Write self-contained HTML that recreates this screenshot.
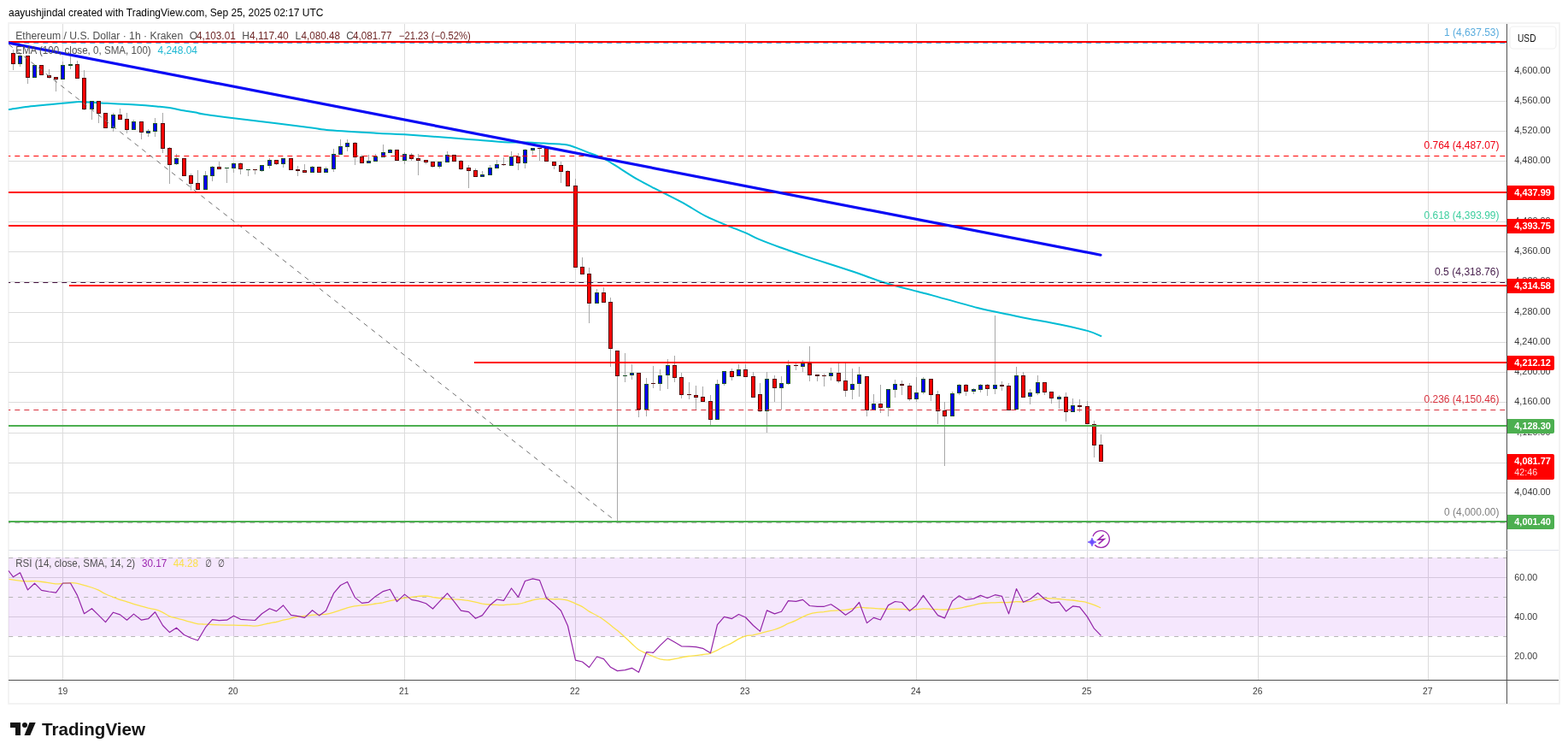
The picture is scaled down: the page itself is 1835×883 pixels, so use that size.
<!DOCTYPE html>
<html lang="en"><head><meta charset="utf-8"><title>ETHUSD 1h chart</title>
<style>
html,body{margin:0;padding:0;background:#fff;}
body{width:1835px;height:883px;overflow:hidden;font-family:"Liberation Sans", "DejaVu Sans", sans-serif;}
svg{display:block;}
text{white-space:pre;}
</style></head><body>
<svg width="1835" height="883" viewBox="0 0 1835 883" font-family='"Liberation Sans", "DejaVu Sans", sans-serif'><defs><clipPath id="cp"><rect x="10" y="28" width="1753" height="767"/></clipPath></defs>
<g id="frame">
<rect x="10" y="27" width="1815" height="796" fill="#fff" stroke="#f3f3f3" stroke-width="2"/>
</g><g id="grid">
<g shape-rendering="crispEdges" fill="#dcdcdc">
<rect x="73" y="28" width="1" height="615"/>
<rect x="73" y="644" width="1" height="151"/>
<rect x="273" y="28" width="1" height="615"/>
<rect x="273" y="644" width="1" height="151"/>
<rect x="473" y="28" width="1" height="615"/>
<rect x="473" y="644" width="1" height="151"/>
<rect x="673" y="28" width="1" height="615"/>
<rect x="673" y="644" width="1" height="151"/>
<rect x="872" y="28" width="1" height="615"/>
<rect x="872" y="644" width="1" height="151"/>
<rect x="1072" y="28" width="1" height="615"/>
<rect x="1072" y="644" width="1" height="151"/>
<rect x="1272" y="28" width="1" height="615"/>
<rect x="1272" y="644" width="1" height="151"/>
<rect x="1472" y="28" width="1" height="615"/>
<rect x="1472" y="644" width="1" height="151"/>
<rect x="1671" y="28" width="1" height="615"/>
<rect x="1671" y="644" width="1" height="151"/>
<rect x="10" y="83" width="1753" height="1"/>
<rect x="10" y="118" width="1753" height="1"/>
<rect x="10" y="153" width="1753" height="1"/>
<rect x="10" y="188" width="1753" height="1"/>
<rect x="10" y="224" width="1753" height="1"/>
<rect x="10" y="259" width="1753" height="1"/>
<rect x="10" y="294" width="1753" height="1"/>
<rect x="10" y="329" width="1753" height="1"/>
<rect x="10" y="365" width="1753" height="1"/>
<rect x="10" y="400" width="1753" height="1"/>
<rect x="10" y="435" width="1753" height="1"/>
<rect x="10" y="470" width="1753" height="1"/>
<rect x="10" y="506" width="1753" height="1"/>
<rect x="10" y="541" width="1753" height="1"/>
<rect x="10" y="576" width="1753" height="1"/>
<rect x="10" y="675" width="1753" height="1"/>
<rect x="10" y="721" width="1753" height="1"/>
<rect x="10" y="767" width="1753" height="1"/>
</g>
</g><g id="rsi-pane">
<rect x="10" y="652" width="1753" height="92" fill="#a425ed" fill-opacity="0.11"/>
<line x1="10" y1="652.5" x2="1763" y2="652.5" stroke="#b6b6b6" stroke-width="1" stroke-dasharray="5 6" stroke-dashoffset="10.8"/>
<line x1="10" y1="698.5" x2="1763" y2="698.5" stroke="#b6b6b6" stroke-width="1" stroke-dasharray="5 6" stroke-dashoffset="10.8"/>
<line x1="10" y1="744.5" x2="1763" y2="744.5" stroke="#b6b6b6" stroke-width="1" stroke-dasharray="5 6" stroke-dashoffset="10.8"/>
<path fill="none" stroke="#fbe14a" stroke-width="1.3" stroke-linejoin="round" clip-path="url(#cp)" d="M10.5 677.3C13.4 677.7 23.0 679.3 28.1 679.7C33.1 680.1 37.0 679.6 40.6 679.7C44.1 679.8 45.3 679.9 49.4 680.5C53.4 681.0 61.0 682.5 65.0 682.8C69.1 683.2 70.7 682.5 73.6 682.3C76.4 682.1 79.1 681.7 82.0 681.7C84.8 681.7 86.5 681.5 90.7 682.3C94.9 683.2 102.9 685.7 107.0 687.0C111.1 688.3 112.5 688.9 115.2 690.1C117.8 691.4 120.2 693.1 123.1 694.5C125.9 695.9 129.2 697.1 132.1 698.3C134.9 699.4 137.6 700.5 140.2 701.4C142.9 702.3 145.4 702.8 148.0 703.6C150.7 704.5 153.3 705.5 156.2 706.4C159.0 707.3 162.2 708.1 165.1 708.9C167.9 709.7 170.8 710.5 173.4 711.2C176.1 711.8 178.5 711.9 181.2 712.7C183.9 713.4 186.9 714.5 189.7 715.8C192.6 717.1 195.4 719.4 198.1 720.6C200.9 721.8 203.3 722.2 206.0 722.9C208.8 723.7 211.9 724.4 214.8 725.2C217.7 726.0 220.9 727.0 223.6 727.7C226.3 728.4 228.7 729.2 231.1 729.6C233.5 730.0 235.2 729.8 238.0 730.0C240.8 730.1 243.7 730.3 248.2 730.5C252.6 730.7 260.7 731.0 264.8 731.1C269.0 731.2 269.1 731.2 273.2 731.2C277.4 731.3 285.8 731.3 289.9 731.5C294.0 731.6 295.3 732.2 298.1 732.1C300.8 732.0 303.7 731.4 306.5 730.8C309.3 730.3 312.1 729.5 314.9 729.0C317.6 728.4 320.3 728.1 323.1 727.5C325.9 726.8 328.7 725.9 331.5 725.2C334.3 724.5 337.2 724.0 339.9 723.3C342.7 722.7 345.3 721.9 348.1 721.4C350.8 721.0 353.7 720.8 356.5 720.4C359.2 720.1 362.0 719.6 364.7 719.3C367.5 719.1 370.4 719.1 373.1 718.9C375.9 718.8 378.6 718.7 381.4 718.3C384.2 717.9 387.0 717.2 389.8 716.4C392.6 715.7 395.3 714.6 398.1 713.7C400.8 712.7 403.6 711.6 406.4 710.8C409.1 710.0 412.0 709.4 414.8 708.9C417.5 708.4 420.2 708.2 423.0 707.9C425.8 707.6 428.6 707.6 431.4 707.3C434.2 707.0 436.9 706.4 439.7 706.0C442.5 705.6 445.3 705.3 448.1 704.8C450.9 704.2 453.6 703.2 456.4 702.6C459.1 702.0 461.9 701.7 464.7 701.1C467.4 700.6 470.2 699.7 472.9 699.3C475.7 698.8 478.6 698.6 481.3 698.3C484.1 697.9 486.9 697.6 489.6 697.4C492.4 697.2 495.1 696.9 497.9 697.0C500.7 697.1 503.5 697.8 506.3 698.3C509.1 698.7 511.8 699.2 514.6 699.5C517.3 699.9 520.2 700.2 522.9 700.4C525.7 700.6 528.4 700.6 531.2 700.8C534.0 700.9 536.8 701.1 539.6 701.4C542.4 701.7 545.1 701.9 547.9 702.4C550.6 702.9 553.4 703.5 556.2 704.1C558.9 704.8 561.8 705.7 564.6 706.2C567.3 706.6 570.1 706.8 572.8 707.0C575.6 707.2 578.5 707.3 581.2 707.4C584.0 707.5 586.7 707.8 589.5 707.7C592.3 707.6 595.1 707.0 597.9 706.8C600.7 706.6 603.4 706.8 606.2 706.4C608.9 706.0 611.7 705.3 614.4 704.5C617.2 703.8 620.1 702.7 622.8 702.0C625.6 701.3 628.3 700.6 631.1 700.4C633.9 700.1 636.7 700.4 639.5 700.5C642.3 700.6 645.0 700.7 647.8 700.8C650.5 700.8 653.3 700.6 656.1 700.8C658.8 701.0 661.5 701.2 664.3 702.0C667.1 702.8 670.0 704.4 672.8 705.7C675.6 706.9 678.3 707.9 681.1 709.4C683.8 711.0 686.7 713.4 689.5 715.1C692.2 716.8 695.0 717.9 697.7 719.5C700.5 721.0 703.2 722.5 706.0 724.5C708.8 726.4 711.6 728.9 714.4 731.1C717.2 733.3 719.9 735.3 722.7 737.6C725.4 739.9 728.3 742.4 731.1 744.9C733.8 747.4 736.6 750.2 739.3 752.7C742.1 755.2 744.8 758.1 747.6 760.0C750.4 761.8 753.2 762.7 756.0 764.0C758.8 765.3 761.5 766.6 764.3 767.7C767.0 768.9 769.8 770.2 772.6 770.9C775.3 771.5 778.2 771.9 781.0 771.9C783.7 771.8 786.4 771.1 789.2 770.6C792.0 770.1 794.8 769.5 797.6 769.0C800.4 768.5 803.1 767.9 805.9 767.5C808.7 767.1 811.4 767.1 814.2 766.7C816.9 766.4 819.8 765.9 822.6 765.5C825.3 765.1 828.1 765.2 830.8 764.3C833.6 763.5 836.5 761.9 839.2 760.6C842.0 759.2 844.8 757.6 847.5 756.2C850.3 754.8 853.0 753.9 855.8 752.4C858.6 751.0 861.4 748.8 864.2 747.4C867.0 746.0 869.7 744.7 872.5 743.9C875.2 743.1 878.0 743.3 880.8 742.8C883.5 742.2 886.4 741.5 889.1 740.9C891.9 740.2 894.6 739.5 897.4 738.7C900.2 738.0 903.0 737.4 905.8 736.5C908.6 735.6 911.3 734.6 914.1 733.4C916.9 732.1 919.7 730.5 922.5 729.2C925.3 728.0 928.0 727.1 930.8 725.8C933.5 724.6 936.3 723.0 939.0 721.7C941.8 720.4 944.7 718.9 947.4 718.1C950.2 717.2 952.9 716.8 955.7 716.4C958.5 716.0 961.3 715.9 964.1 715.6C966.9 715.2 969.6 714.6 972.4 714.3C975.1 714.0 977.9 714.1 980.6 713.9C983.4 713.8 986.3 713.6 989.0 713.3C991.8 713.0 994.5 712.6 997.3 712.0C1000.1 711.5 1002.9 710.3 1005.7 710.2C1008.5 710.0 1011.2 710.8 1014.0 711.0C1016.7 711.2 1019.5 711.2 1022.3 711.4C1025.0 711.6 1027.9 711.9 1030.7 712.0C1033.4 712.2 1036.2 712.3 1038.9 712.3C1041.7 712.3 1044.6 712.3 1047.3 712.3C1050.1 712.3 1052.8 712.3 1055.6 712.4C1058.4 712.5 1061.1 713.0 1063.9 713.0C1066.7 713.1 1069.5 712.9 1072.3 712.7C1075.1 712.5 1077.7 711.9 1080.5 711.8C1083.4 711.7 1086.4 712.1 1089.2 712.3C1092.1 712.4 1094.9 712.5 1097.6 712.7C1100.4 712.8 1103.1 713.1 1105.9 713.0C1108.7 713.0 1111.5 712.6 1114.3 712.3C1117.1 712.0 1119.8 711.9 1122.6 711.4C1125.3 711.0 1128.1 710.2 1130.9 709.5C1133.6 708.9 1136.5 708.3 1139.3 707.7C1142.0 707.0 1144.8 706.2 1147.5 705.8C1150.3 705.4 1153.2 705.3 1155.9 705.1C1158.7 705.0 1161.4 704.9 1164.2 704.8C1167.0 704.7 1169.7 704.6 1172.5 704.5C1175.3 704.5 1178.1 704.7 1180.9 704.5C1183.7 704.4 1186.4 703.8 1189.1 703.6C1191.9 703.5 1194.8 704.0 1197.5 703.9C1200.3 703.8 1203.1 703.7 1205.8 703.3C1208.6 702.8 1211.3 701.7 1214.1 701.1C1216.9 700.6 1219.7 700.0 1222.5 699.8C1225.3 699.6 1228.0 699.8 1230.8 699.9C1233.5 700.0 1236.4 700.3 1239.2 700.5C1241.9 700.8 1244.7 701.1 1247.4 701.4C1250.2 701.6 1252.9 701.7 1255.7 702.0C1258.5 702.3 1261.3 702.8 1264.1 703.3C1266.9 703.7 1269.6 704.0 1272.4 704.8C1275.1 705.5 1278.2 706.7 1280.8 707.7C1283.4 708.7 1286.8 710.3 1288.0 710.8"/>
<polyline fill="none" stroke="#9324a8" stroke-width="1.2" stroke-linejoin="round" points="10.0,667.5 15.5,674.8 23.5,669.8 32.5,689.9 40.5,682.2 48.5,690.4 57.5,692.0 65.5,693.2 73.5,682.0 82.5,682.0 90.5,696.4 98.5,717.7 107.5,711.7 115.5,719.6 123.5,727.7 132.5,716.2 140.5,718.9 148.5,725.2 156.5,718.1 165.5,725.2 173.5,723.7 181.5,715.8 190.5,731.5 198.5,739.6 206.5,734.2 215.5,742.5 223.5,746.3 231.5,749.0 240.5,733.7 248.5,724.6 256.5,725.6 265.5,725.2 273.5,720.2 281.5,724.3 290.5,725.0 298.5,725.5 306.5,717.7 315.5,711.8 323.5,714.9 331.5,708.0 340.5,719.3 348.5,720.6 356.5,722.4 365.5,713.7 373.5,719.9 381.5,714.2 390.5,693.9 398.5,684.5 406.5,680.5 415.5,698.9 423.5,705.4 431.5,704.3 439.5,697.4 448.5,691.6 456.5,689.2 464.5,703.6 473.5,695.1 481.5,701.4 489.5,702.9 498.5,705.8 506.5,712.0 514.5,703.3 523.5,693.9 531.5,703.6 539.5,714.2 548.5,715.6 556.5,723.3 564.5,719.6 573.5,707.7 581.5,701.0 589.5,702.4 598.5,688.0 606.5,698.3 614.5,679.5 623.5,676.9 631.5,678.6 639.5,699.5 648.5,706.4 656.5,714.2 664.5,732.0 673.5,772.1 681.5,774.0 689.5,780.5 698.5,768.0 706.5,770.6 714.5,780.3 722.5,784.6 731.5,783.6 739.5,781.3 747.5,786.3 756.5,762.7 764.5,763.3 772.5,754.9 781.5,746.4 789.5,751.1 797.5,755.8 806.5,756.1 814.5,756.7 822.5,758.3 831.5,763.7 839.5,730.7 847.5,721.3 856.5,723.6 864.5,718.5 872.5,722.0 881.5,731.5 889.5,738.4 897.5,713.9 906.5,717.9 914.5,715.2 922.5,702.6 931.5,703.3 939.5,701.4 947.5,708.5 956.5,709.3 964.5,709.3 972.5,706.8 981.5,712.7 989.5,719.3 997.5,713.9 1005.5,704.5 1014.5,728.6 1022.5,722.4 1030.5,725.0 1039.5,707.9 1047.5,703.5 1055.5,704.5 1064.5,714.6 1072.5,708.0 1080.5,696.4 1089.5,708.9 1097.5,719.6 1105.5,722.9 1114.5,703.0 1122.5,696.8 1130.5,701.4 1139.5,700.1 1147.5,696.4 1155.5,699.5 1164.5,695.7 1172.5,697.3 1180.5,717.9 1189.5,688.6 1197.5,704.3 1205.5,700.8 1214.5,693.5 1222.5,700.8 1230.5,705.1 1239.5,704.1 1247.5,714.9 1255.5,708.9 1263.5,709.9 1272.5,721.4 1280.5,735.2 1288.5,743.4"/>
</g><g id="ema-line">
<path fill="none" stroke="#00bcd4" stroke-width="2" stroke-linejoin="round" stroke-linecap="round" clip-path="url(#cp)" d="M10.5 128.0C14.3 127.5 25.2 125.8 33.1 124.8C41.0 123.8 51.4 123.0 58.1 122.3C64.8 121.6 68.0 121.3 73.2 120.8C78.4 120.3 85.8 119.6 89.5 119.3C93.2 119.0 90.9 119.0 95.7 119.2C100.5 119.4 112.0 120.1 118.3 120.4C124.6 120.7 126.6 120.9 133.3 121.2C140.0 121.5 150.0 121.9 158.4 122.4C166.8 122.9 177.2 123.8 183.5 124.4C189.8 125.0 190.8 125.0 196.0 125.8C201.2 126.6 209.3 128.2 214.8 129.2C220.3 130.1 225.1 130.8 229.0 131.5C232.9 132.2 230.6 132.4 238.0 133.5C245.4 134.6 258.9 136.4 273.5 138.2C288.1 140.0 310.2 142.5 325.5 144.4C340.8 146.3 355.5 148.1 365.0 149.4C374.5 150.7 370.0 150.9 382.5 152.0C395.0 153.1 425.0 154.8 440.2 155.7C455.4 156.6 458.9 156.4 473.5 157.3C488.1 158.2 513.6 160.2 528.0 161.3C542.4 162.4 548.8 163.0 560.0 163.8C571.2 164.7 585.4 165.9 595.0 166.4C604.6 166.9 610.7 166.4 617.6 166.6C624.5 166.8 630.1 167.3 636.4 167.6C642.7 167.9 650.6 168.3 655.2 168.6C659.8 168.9 661.0 168.9 664.0 169.5C667.0 170.1 669.6 171.1 673.4 172.4C677.1 173.8 681.2 175.5 686.5 177.6C691.8 179.7 700.1 182.5 705.3 184.9C710.5 187.3 711.0 187.9 717.9 192.1C724.8 196.3 737.1 204.7 746.7 210.2C756.3 215.7 766.5 220.4 775.4 225.0C784.3 229.6 791.7 233.0 800.0 237.6C808.3 242.2 816.8 248.1 825.1 252.4C833.5 256.7 842.2 260.0 850.1 263.3C858.0 266.6 866.4 269.7 872.7 272.4C879.0 275.1 881.0 276.8 887.7 279.6C894.4 282.4 903.4 285.8 912.8 289.2C922.2 292.6 929.9 295.4 944.1 300.1C958.3 304.8 982.7 312.4 997.9 317.5C1013.1 322.6 1023.0 326.8 1035.5 330.7C1048.0 334.6 1064.0 338.3 1073.1 340.7C1082.2 343.1 1078.2 341.9 1090.0 345.1C1101.8 348.3 1128.9 356.2 1143.9 360.0C1158.9 363.8 1170.0 365.7 1180.2 367.8C1190.4 369.9 1195.3 371.0 1205.3 372.9C1215.3 374.8 1229.2 377.1 1240.4 379.4C1251.6 381.7 1264.6 384.6 1272.6 386.9C1280.6 389.2 1285.8 392.0 1288.4 393.0"/>
</g><g id="candles">
<g shape-rendering="crispEdges" fill="#a8a8a8"><rect x="15" y="58" width="1" height="24"/><rect x="23" y="63" width="1" height="15"/><rect x="32" y="65" width="1" height="33"/><rect x="57" y="81" width="1" height="11"/><rect x="65" y="90" width="1" height="17"/><rect x="73" y="72" width="1" height="21"/><rect x="82" y="66" width="1" height="15"/><rect x="90" y="71" width="1" height="21"/><rect x="98" y="82" width="1" height="47"/><rect x="107" y="118" width="1" height="22"/><rect x="115" y="118" width="1" height="26"/><rect x="132" y="132" width="1" height="22"/><rect x="140" y="127" width="1" height="13"/><rect x="148" y="132" width="1" height="24"/><rect x="156" y="140" width="1" height="12"/><rect x="165" y="142" width="1" height="21"/><rect x="173" y="151" width="1" height="9"/><rect x="181" y="138" width="1" height="22"/><rect x="190" y="132" width="1" height="47"/><rect x="198" y="172" width="1" height="43"/><rect x="206" y="180" width="1" height="13"/><rect x="223" y="203" width="1" height="20"/><rect x="231" y="199" width="1" height="23"/><rect x="240" y="200" width="1" height="22"/><rect x="248" y="194" width="1" height="18"/><rect x="256" y="189" width="1" height="9"/><rect x="265" y="196" width="1" height="18"/><rect x="273" y="190" width="1" height="12"/><rect x="281" y="190" width="1" height="14"/><rect x="290" y="198" width="1" height="8"/><rect x="298" y="198" width="1" height="6"/><rect x="306" y="193" width="1" height="8"/><rect x="315" y="185" width="1" height="12"/><rect x="323" y="187" width="1" height="6"/><rect x="331" y="185" width="1" height="11"/><rect x="348" y="194" width="1" height="12"/><rect x="356" y="192" width="1" height="10"/><rect x="365" y="194" width="1" height="8"/><rect x="381" y="195" width="1" height="7"/><rect x="390" y="174" width="1" height="27"/><rect x="398" y="163" width="1" height="18"/><rect x="406" y="163" width="1" height="14"/><rect x="415" y="166" width="1" height="27"/><rect x="423" y="181" width="1" height="10"/><rect x="431" y="181" width="1" height="10"/><rect x="439" y="180" width="1" height="9"/><rect x="448" y="169" width="1" height="15"/><rect x="456" y="174" width="1" height="5"/><rect x="473" y="178" width="1" height="14"/><rect x="481" y="179" width="1" height="9"/><rect x="489" y="180" width="1" height="25"/><rect x="498" y="187" width="1" height="5"/><rect x="506" y="189" width="1" height="7"/><rect x="514" y="189" width="1" height="8"/><rect x="523" y="177" width="1" height="13"/><rect x="539" y="187" width="1" height="12"/><rect x="548" y="193" width="1" height="27"/><rect x="556" y="197" width="1" height="10"/><rect x="564" y="200" width="1" height="7"/><rect x="573" y="193" width="1" height="12"/><rect x="581" y="187" width="1" height="10"/><rect x="589" y="184" width="1" height="10"/><rect x="598" y="177" width="1" height="17"/><rect x="606" y="179" width="1" height="20"/><rect x="614" y="174" width="1" height="23"/><rect x="623" y="173" width="1" height="8"/><rect x="631" y="173" width="1" height="15"/><rect x="648" y="189" width="1" height="9"/><rect x="656" y="189" width="1" height="25"/><rect x="664" y="199" width="1" height="19"/><rect x="673" y="209" width="1" height="104"/><rect x="681" y="301" width="1" height="20"/><rect x="689" y="313" width="1" height="65"/><rect x="698" y="338" width="1" height="17"/><rect x="706" y="336" width="1" height="18"/><rect x="714" y="348" width="1" height="81"/><rect x="722" y="410" width="1" height="200"/><rect x="731" y="413" width="1" height="34"/><rect x="739" y="426" width="1" height="18"/><rect x="747" y="436" width="1" height="52"/><rect x="756" y="442" width="1" height="45"/><rect x="764" y="428" width="1" height="26"/><rect x="772" y="432" width="1" height="25"/><rect x="781" y="420" width="1" height="35"/><rect x="789" y="416" width="1" height="31"/><rect x="797" y="436" width="1" height="30"/><rect x="806" y="447" width="1" height="20"/><rect x="814" y="451" width="1" height="28"/><rect x="822" y="452" width="1" height="18"/><rect x="831" y="462" width="1" height="35"/><rect x="839" y="444" width="1" height="47"/><rect x="847" y="434" width="1" height="17"/><rect x="856" y="431" width="1" height="14"/><rect x="864" y="426" width="1" height="14"/><rect x="872" y="426" width="1" height="15"/><rect x="881" y="435" width="1" height="30"/><rect x="889" y="448" width="1" height="34"/><rect x="897" y="435" width="1" height="71"/><rect x="906" y="439" width="1" height="31"/><rect x="914" y="440" width="1" height="39"/><rect x="922" y="421" width="1" height="29"/><rect x="931" y="425" width="1" height="8"/><rect x="939" y="421" width="1" height="14"/><rect x="947" y="405" width="1" height="41"/><rect x="956" y="438" width="1" height="8"/><rect x="964" y="437" width="1" height="15"/><rect x="972" y="430" width="1" height="15"/><rect x="981" y="425" width="1" height="23"/><rect x="989" y="425" width="1" height="39"/><rect x="997" y="431" width="1" height="36"/><rect x="1005" y="429" width="1" height="35"/><rect x="1014" y="440" width="1" height="47"/><rect x="1022" y="461" width="1" height="19"/><rect x="1030" y="450" width="1" height="33"/><rect x="1039" y="455" width="1" height="32"/><rect x="1047" y="444" width="1" height="21"/><rect x="1055" y="445" width="1" height="17"/><rect x="1064" y="448" width="1" height="21"/><rect x="1072" y="441" width="1" height="29"/><rect x="1080" y="441" width="1" height="20"/><rect x="1089" y="443" width="1" height="26"/><rect x="1097" y="457" width="1" height="39"/><rect x="1105" y="470" width="1" height="75"/><rect x="1114" y="458" width="1" height="29"/><rect x="1122" y="449" width="1" height="13"/><rect x="1130" y="449" width="1" height="14"/><rect x="1139" y="454" width="1" height="7"/><rect x="1147" y="449" width="1" height="10"/><rect x="1155" y="449" width="1" height="14"/><rect x="1164" y="369" width="1" height="92"/><rect x="1172" y="446" width="1" height="11"/><rect x="1180" y="448" width="1" height="32"/><rect x="1189" y="429" width="1" height="50"/><rect x="1197" y="435" width="1" height="30"/><rect x="1205" y="455" width="1" height="18"/><rect x="1214" y="439" width="1" height="23"/><rect x="1222" y="447" width="1" height="15"/><rect x="1230" y="458" width="1" height="14"/><rect x="1239" y="462" width="1" height="16"/><rect x="1247" y="459" width="1" height="34"/><rect x="1255" y="466" width="1" height="16"/><rect x="1263" y="467" width="1" height="15"/><rect x="1272" y="469" width="1" height="27"/><rect x="1280" y="492" width="1" height="43"/><rect x="1288" y="508" width="1" height="32"/></g>
<g shape-rendering="crispEdges"><rect x="13" y="62" width="5" height="13" fill="#520808"/><rect x="14" y="63" width="3" height="11" fill="#ff0000"/><rect x="21" y="65" width="5" height="10" fill="#1a5428"/><rect x="22" y="66" width="3" height="8" fill="#0000ff"/><rect x="30" y="65" width="5" height="26" fill="#520808"/><rect x="31" y="66" width="3" height="24" fill="#ff0000"/><rect x="38" y="76" width="5" height="15" fill="#1a5428"/><rect x="39" y="77" width="3" height="13" fill="#0000ff"/><rect x="46" y="76" width="5" height="12" fill="#520808"/><rect x="47" y="77" width="3" height="10" fill="#ff0000"/><rect x="55" y="88" width="5" height="3" fill="#520808"/><rect x="56" y="89" width="3" height="1" fill="#ff0000"/><rect x="63" y="90" width="5" height="3" fill="#520808"/><rect x="64" y="91" width="3" height="1" fill="#ff0000"/><rect x="71" y="76" width="5" height="17" fill="#1a5428"/><rect x="72" y="77" width="3" height="15" fill="#0000ff"/><rect x="80" y="75" width="5" height="2" fill="#1a5428"/><rect x="88" y="75" width="5" height="17" fill="#520808"/><rect x="89" y="76" width="3" height="15" fill="#ff0000"/><rect x="96" y="91" width="5" height="37" fill="#520808"/><rect x="97" y="92" width="3" height="35" fill="#ff0000"/><rect x="105" y="118" width="5" height="10" fill="#1a5428"/><rect x="106" y="119" width="3" height="8" fill="#0000ff"/><rect x="113" y="118" width="5" height="15" fill="#520808"/><rect x="114" y="119" width="3" height="13" fill="#ff0000"/><rect x="121" y="132" width="5" height="18" fill="#520808"/><rect x="122" y="133" width="3" height="16" fill="#ff0000"/><rect x="130" y="134" width="5" height="16" fill="#1a5428"/><rect x="131" y="135" width="3" height="14" fill="#0000ff"/><rect x="138" y="134" width="5" height="6" fill="#520808"/><rect x="139" y="135" width="3" height="4" fill="#ff0000"/><rect x="146" y="139" width="5" height="13" fill="#520808"/><rect x="147" y="140" width="3" height="11" fill="#ff0000"/><rect x="154" y="142" width="5" height="10" fill="#1a5428"/><rect x="155" y="143" width="3" height="8" fill="#0000ff"/><rect x="163" y="142" width="5" height="13" fill="#520808"/><rect x="164" y="143" width="3" height="11" fill="#ff0000"/><rect x="171" y="153" width="5" height="3" fill="#1a5428"/><rect x="172" y="154" width="3" height="1" fill="#0000ff"/><rect x="179" y="144" width="5" height="10" fill="#1a5428"/><rect x="180" y="145" width="3" height="8" fill="#0000ff"/><rect x="188" y="144" width="5" height="30" fill="#520808"/><rect x="189" y="145" width="3" height="28" fill="#ff0000"/><rect x="196" y="173" width="5" height="20" fill="#520808"/><rect x="197" y="174" width="3" height="18" fill="#ff0000"/><rect x="204" y="185" width="5" height="7" fill="#1a5428"/><rect x="205" y="186" width="3" height="5" fill="#0000ff"/><rect x="213" y="185" width="5" height="21" fill="#520808"/><rect x="214" y="186" width="3" height="19" fill="#ff0000"/><rect x="221" y="205" width="5" height="10" fill="#520808"/><rect x="222" y="206" width="3" height="8" fill="#ff0000"/><rect x="229" y="214" width="5" height="8" fill="#520808"/><rect x="230" y="215" width="3" height="6" fill="#ff0000"/><rect x="238" y="205" width="5" height="17" fill="#1a5428"/><rect x="239" y="206" width="3" height="15" fill="#0000ff"/><rect x="246" y="195" width="5" height="11" fill="#1a5428"/><rect x="247" y="196" width="3" height="9" fill="#0000ff"/><rect x="254" y="195" width="5" height="3" fill="#520808"/><rect x="255" y="196" width="3" height="1" fill="#ff0000"/><rect x="263" y="196" width="5" height="1" fill="#1a5428"/><rect x="271" y="191" width="5" height="6" fill="#1a5428"/><rect x="272" y="192" width="3" height="4" fill="#0000ff"/><rect x="279" y="191" width="5" height="7" fill="#520808"/><rect x="280" y="192" width="3" height="5" fill="#ff0000"/><rect x="288" y="198" width="5" height="1" fill="#1a5428"/><rect x="296" y="198" width="5" height="1" fill="#520808"/><rect x="304" y="193" width="5" height="7" fill="#1a5428"/><rect x="305" y="194" width="3" height="5" fill="#0000ff"/><rect x="313" y="187" width="5" height="7" fill="#1a5428"/><rect x="314" y="188" width="3" height="5" fill="#0000ff"/><rect x="321" y="187" width="5" height="5" fill="#520808"/><rect x="322" y="188" width="3" height="3" fill="#ff0000"/><rect x="329" y="185" width="5" height="7" fill="#1a5428"/><rect x="330" y="186" width="3" height="5" fill="#0000ff"/><rect x="338" y="185" width="5" height="14" fill="#520808"/><rect x="339" y="186" width="3" height="12" fill="#ff0000"/><rect x="346" y="198" width="5" height="2" fill="#520808"/><rect x="354" y="199" width="5" height="3" fill="#520808"/><rect x="355" y="200" width="3" height="1" fill="#ff0000"/><rect x="363" y="195" width="5" height="7" fill="#1a5428"/><rect x="364" y="196" width="3" height="5" fill="#0000ff"/><rect x="371" y="195" width="5" height="7" fill="#520808"/><rect x="372" y="196" width="3" height="5" fill="#ff0000"/><rect x="379" y="197" width="5" height="5" fill="#1a5428"/><rect x="380" y="198" width="3" height="3" fill="#0000ff"/><rect x="388" y="180" width="5" height="18" fill="#1a5428"/><rect x="389" y="181" width="3" height="16" fill="#0000ff"/><rect x="396" y="171" width="5" height="10" fill="#1a5428"/><rect x="397" y="172" width="3" height="8" fill="#0000ff"/><rect x="404" y="167" width="5" height="5" fill="#1a5428"/><rect x="405" y="168" width="3" height="3" fill="#0000ff"/><rect x="413" y="167" width="5" height="17" fill="#520808"/><rect x="414" y="168" width="3" height="15" fill="#ff0000"/><rect x="421" y="183" width="5" height="8" fill="#520808"/><rect x="422" y="184" width="3" height="6" fill="#ff0000"/><rect x="429" y="188" width="5" height="3" fill="#1a5428"/><rect x="430" y="189" width="3" height="1" fill="#0000ff"/><rect x="437" y="183" width="5" height="6" fill="#1a5428"/><rect x="438" y="184" width="3" height="4" fill="#0000ff"/><rect x="446" y="178" width="5" height="6" fill="#1a5428"/><rect x="447" y="179" width="3" height="4" fill="#0000ff"/><rect x="454" y="175" width="5" height="4" fill="#1a5428"/><rect x="455" y="176" width="3" height="2" fill="#0000ff"/><rect x="462" y="175" width="5" height="13" fill="#520808"/><rect x="463" y="176" width="3" height="11" fill="#ff0000"/><rect x="471" y="180" width="5" height="8" fill="#1a5428"/><rect x="472" y="181" width="3" height="6" fill="#0000ff"/><rect x="479" y="181" width="5" height="5" fill="#520808"/><rect x="480" y="182" width="3" height="3" fill="#ff0000"/><rect x="487" y="185" width="5" height="3" fill="#520808"/><rect x="488" y="186" width="3" height="1" fill="#ff0000"/><rect x="496" y="187" width="5" height="3" fill="#520808"/><rect x="497" y="188" width="3" height="1" fill="#ff0000"/><rect x="504" y="189" width="5" height="6" fill="#520808"/><rect x="505" y="190" width="3" height="4" fill="#ff0000"/><rect x="512" y="189" width="5" height="6" fill="#1a5428"/><rect x="513" y="190" width="3" height="4" fill="#0000ff"/><rect x="521" y="181" width="5" height="9" fill="#1a5428"/><rect x="522" y="182" width="3" height="7" fill="#0000ff"/><rect x="529" y="181" width="5" height="8" fill="#520808"/><rect x="530" y="182" width="3" height="6" fill="#ff0000"/><rect x="537" y="188" width="5" height="10" fill="#520808"/><rect x="538" y="189" width="3" height="8" fill="#ff0000"/><rect x="546" y="196" width="5" height="4" fill="#520808"/><rect x="547" y="197" width="3" height="2" fill="#ff0000"/><rect x="554" y="199" width="5" height="8" fill="#520808"/><rect x="555" y="200" width="3" height="6" fill="#ff0000"/><rect x="562" y="204" width="5" height="3" fill="#1a5428"/><rect x="563" y="205" width="3" height="1" fill="#0000ff"/><rect x="571" y="196" width="5" height="9" fill="#1a5428"/><rect x="572" y="197" width="3" height="7" fill="#0000ff"/><rect x="579" y="192" width="5" height="5" fill="#1a5428"/><rect x="580" y="193" width="3" height="3" fill="#0000ff"/><rect x="587" y="192" width="5" height="1" fill="#520808"/><rect x="596" y="183" width="5" height="11" fill="#1a5428"/><rect x="597" y="184" width="3" height="9" fill="#0000ff"/><rect x="604" y="183" width="5" height="8" fill="#520808"/><rect x="605" y="184" width="3" height="6" fill="#ff0000"/><rect x="612" y="175" width="5" height="16" fill="#1a5428"/><rect x="613" y="176" width="3" height="14" fill="#0000ff"/><rect x="621" y="173" width="5" height="3" fill="#1a5428"/><rect x="622" y="174" width="3" height="1" fill="#0000ff"/><rect x="629" y="173" width="5" height="1" fill="#520808"/><rect x="637" y="173" width="5" height="16" fill="#520808"/><rect x="638" y="174" width="3" height="14" fill="#ff0000"/><rect x="646" y="189" width="5" height="5" fill="#520808"/><rect x="647" y="190" width="3" height="3" fill="#ff0000"/><rect x="654" y="193" width="5" height="8" fill="#520808"/><rect x="655" y="194" width="3" height="6" fill="#ff0000"/><rect x="662" y="200" width="5" height="18" fill="#520808"/><rect x="663" y="201" width="3" height="16" fill="#ff0000"/><rect x="671" y="217" width="5" height="96" fill="#520808"/><rect x="672" y="218" width="3" height="94" fill="#ff0000"/><rect x="679" y="312" width="5" height="9" fill="#520808"/><rect x="680" y="313" width="3" height="7" fill="#ff0000"/><rect x="687" y="320" width="5" height="35" fill="#520808"/><rect x="688" y="321" width="3" height="33" fill="#ff0000"/><rect x="696" y="342" width="5" height="13" fill="#1a5428"/><rect x="697" y="343" width="3" height="11" fill="#0000ff"/><rect x="704" y="342" width="5" height="12" fill="#520808"/><rect x="705" y="343" width="3" height="10" fill="#ff0000"/><rect x="712" y="353" width="5" height="55" fill="#520808"/><rect x="713" y="354" width="3" height="53" fill="#ff0000"/><rect x="720" y="410" width="5" height="30" fill="#520808"/><rect x="721" y="411" width="3" height="28" fill="#ff0000"/><rect x="729" y="439" width="5" height="1" fill="#1a5428"/><rect x="737" y="436" width="5" height="3" fill="#1a5428"/><rect x="738" y="437" width="3" height="1" fill="#0000ff"/><rect x="745" y="436" width="5" height="43" fill="#520808"/><rect x="746" y="437" width="3" height="41" fill="#ff0000"/><rect x="754" y="449" width="5" height="30" fill="#1a5428"/><rect x="755" y="450" width="3" height="28" fill="#0000ff"/><rect x="762" y="448" width="5" height="1" fill="#520808"/><rect x="770" y="439" width="5" height="10" fill="#1a5428"/><rect x="771" y="440" width="3" height="8" fill="#0000ff"/><rect x="779" y="427" width="5" height="12" fill="#1a5428"/><rect x="780" y="428" width="3" height="10" fill="#0000ff"/><rect x="787" y="427" width="5" height="15" fill="#520808"/><rect x="788" y="428" width="3" height="13" fill="#ff0000"/><rect x="795" y="441" width="5" height="21" fill="#520808"/><rect x="796" y="442" width="3" height="19" fill="#ff0000"/><rect x="804" y="461" width="5" height="1" fill="#520808"/><rect x="812" y="462" width="5" height="3" fill="#520808"/><rect x="813" y="463" width="3" height="1" fill="#ff0000"/><rect x="820" y="464" width="5" height="6" fill="#520808"/><rect x="821" y="465" width="3" height="4" fill="#ff0000"/><rect x="829" y="469" width="5" height="22" fill="#520808"/><rect x="830" y="470" width="3" height="20" fill="#ff0000"/><rect x="837" y="449" width="5" height="42" fill="#1a5428"/><rect x="838" y="450" width="3" height="40" fill="#0000ff"/><rect x="845" y="434" width="5" height="15" fill="#1a5428"/><rect x="846" y="435" width="3" height="13" fill="#0000ff"/><rect x="854" y="434" width="5" height="7" fill="#520808"/><rect x="855" y="435" width="3" height="5" fill="#ff0000"/><rect x="862" y="432" width="5" height="8" fill="#1a5428"/><rect x="863" y="433" width="3" height="6" fill="#0000ff"/><rect x="870" y="432" width="5" height="9" fill="#520808"/><rect x="871" y="433" width="3" height="7" fill="#ff0000"/><rect x="879" y="440" width="5" height="25" fill="#520808"/><rect x="880" y="441" width="3" height="23" fill="#ff0000"/><rect x="887" y="461" width="5" height="20" fill="#520808"/><rect x="888" y="462" width="3" height="18" fill="#ff0000"/><rect x="895" y="443" width="5" height="38" fill="#1a5428"/><rect x="896" y="444" width="3" height="36" fill="#0000ff"/><rect x="904" y="443" width="5" height="11" fill="#520808"/><rect x="905" y="444" width="3" height="9" fill="#ff0000"/><rect x="912" y="448" width="5" height="6" fill="#1a5428"/><rect x="913" y="449" width="3" height="4" fill="#0000ff"/><rect x="920" y="427" width="5" height="22" fill="#1a5428"/><rect x="921" y="428" width="3" height="20" fill="#0000ff"/><rect x="929" y="427" width="5" height="1" fill="#520808"/><rect x="937" y="425" width="5" height="4" fill="#1a5428"/><rect x="938" y="426" width="3" height="2" fill="#0000ff"/><rect x="945" y="425" width="5" height="14" fill="#520808"/><rect x="946" y="426" width="3" height="12" fill="#ff0000"/><rect x="954" y="438" width="5" height="2" fill="#520808"/><rect x="962" y="439" width="5" height="1" fill="#520808"/><rect x="970" y="436" width="5" height="4" fill="#1a5428"/><rect x="971" y="437" width="3" height="2" fill="#0000ff"/><rect x="979" y="436" width="5" height="10" fill="#520808"/><rect x="980" y="437" width="3" height="8" fill="#ff0000"/><rect x="987" y="445" width="5" height="12" fill="#520808"/><rect x="988" y="446" width="3" height="10" fill="#ff0000"/><rect x="995" y="449" width="5" height="7" fill="#1a5428"/><rect x="996" y="450" width="3" height="5" fill="#0000ff"/><rect x="1003" y="438" width="5" height="11" fill="#1a5428"/><rect x="1004" y="439" width="3" height="9" fill="#0000ff"/><rect x="1012" y="440" width="5" height="40" fill="#520808"/><rect x="1013" y="441" width="3" height="38" fill="#ff0000"/><rect x="1020" y="472" width="5" height="8" fill="#1a5428"/><rect x="1021" y="473" width="3" height="6" fill="#0000ff"/><rect x="1028" y="472" width="5" height="5" fill="#520808"/><rect x="1029" y="473" width="3" height="3" fill="#ff0000"/><rect x="1037" y="455" width="5" height="22" fill="#1a5428"/><rect x="1038" y="456" width="3" height="20" fill="#0000ff"/><rect x="1045" y="449" width="5" height="7" fill="#1a5428"/><rect x="1046" y="450" width="3" height="5" fill="#0000ff"/><rect x="1053" y="449" width="5" height="2" fill="#520808"/><rect x="1062" y="451" width="5" height="16" fill="#520808"/><rect x="1063" y="452" width="3" height="14" fill="#ff0000"/><rect x="1070" y="459" width="5" height="8" fill="#1a5428"/><rect x="1071" y="460" width="3" height="6" fill="#0000ff"/><rect x="1078" y="443" width="5" height="16" fill="#1a5428"/><rect x="1079" y="444" width="3" height="14" fill="#0000ff"/><rect x="1087" y="443" width="5" height="19" fill="#520808"/><rect x="1088" y="444" width="3" height="17" fill="#ff0000"/><rect x="1095" y="461" width="5" height="20" fill="#520808"/><rect x="1096" y="462" width="3" height="18" fill="#ff0000"/><rect x="1103" y="480" width="5" height="7" fill="#520808"/><rect x="1104" y="481" width="3" height="5" fill="#ff0000"/><rect x="1112" y="460" width="5" height="27" fill="#1a5428"/><rect x="1113" y="461" width="3" height="25" fill="#0000ff"/><rect x="1120" y="450" width="5" height="10" fill="#1a5428"/><rect x="1121" y="451" width="3" height="8" fill="#0000ff"/><rect x="1128" y="450" width="5" height="8" fill="#520808"/><rect x="1129" y="451" width="3" height="6" fill="#ff0000"/><rect x="1137" y="455" width="5" height="3" fill="#1a5428"/><rect x="1138" y="456" width="3" height="1" fill="#0000ff"/><rect x="1145" y="450" width="5" height="6" fill="#1a5428"/><rect x="1146" y="451" width="3" height="4" fill="#0000ff"/><rect x="1153" y="450" width="5" height="5" fill="#520808"/><rect x="1154" y="451" width="3" height="3" fill="#ff0000"/><rect x="1162" y="450" width="5" height="5" fill="#1a5428"/><rect x="1163" y="451" width="3" height="3" fill="#0000ff"/><rect x="1170" y="450" width="5" height="2" fill="#520808"/><rect x="1178" y="451" width="5" height="29" fill="#520808"/><rect x="1179" y="452" width="3" height="27" fill="#ff0000"/><rect x="1187" y="439" width="5" height="40" fill="#1a5428"/><rect x="1188" y="440" width="3" height="38" fill="#0000ff"/><rect x="1195" y="439" width="5" height="26" fill="#520808"/><rect x="1196" y="440" width="3" height="24" fill="#ff0000"/><rect x="1203" y="459" width="5" height="5" fill="#1a5428"/><rect x="1204" y="460" width="3" height="3" fill="#0000ff"/><rect x="1212" y="447" width="5" height="13" fill="#1a5428"/><rect x="1213" y="448" width="3" height="11" fill="#0000ff"/><rect x="1220" y="447" width="5" height="12" fill="#520808"/><rect x="1221" y="448" width="3" height="10" fill="#ff0000"/><rect x="1228" y="458" width="5" height="8" fill="#520808"/><rect x="1229" y="459" width="3" height="6" fill="#ff0000"/><rect x="1237" y="464" width="5" height="3" fill="#1a5428"/><rect x="1238" y="465" width="3" height="1" fill="#0000ff"/><rect x="1245" y="464" width="5" height="18" fill="#520808"/><rect x="1246" y="465" width="3" height="16" fill="#ff0000"/><rect x="1253" y="474" width="5" height="8" fill="#1a5428"/><rect x="1254" y="475" width="3" height="6" fill="#0000ff"/><rect x="1261" y="474" width="5" height="2" fill="#520808"/><rect x="1270" y="475" width="5" height="21" fill="#520808"/><rect x="1271" y="476" width="3" height="19" fill="#ff0000"/><rect x="1278" y="496" width="5" height="25" fill="#520808"/><rect x="1279" y="497" width="3" height="23" fill="#ff0000"/><rect x="1286" y="520" width="5" height="20" fill="#520808"/><rect x="1287" y="521" width="3" height="18" fill="#ff0000"/></g>
</g><g id="drawings">
<line x1="10" y1="50.5" x2="1763" y2="50.5" stroke="#5badde" stroke-width="1" stroke-dasharray="6 5" stroke-dashoffset="3.7"/>
<line x1="10" y1="182.5" x2="1763" y2="182.5" stroke="#ff0000" stroke-width="1" stroke-dasharray="6 5" stroke-dashoffset="3.7"/>
<line x1="10" y1="330.5" x2="1763" y2="330.5" stroke="#45123f" stroke-width="1" stroke-dasharray="6 5" stroke-dashoffset="3.7"/>
<line x1="10" y1="479.5" x2="1763" y2="479.5" stroke="#d8323e" stroke-width="1" stroke-dasharray="6 5" stroke-dashoffset="3.7"/>
<line x1="10" y1="611" x2="1763" y2="611" stroke="#666666" stroke-width="1" stroke-dasharray="6 5" stroke-dashoffset="3.7"/>
<line x1="10.5" y1="52.2" x2="722.5" y2="611" stroke="#707070" stroke-width="1" stroke-dasharray="5.5 5.5" clip-path="url(#cp)"/>
<rect x="10" y="48" width="1753" height="2" fill="#ff0000" shape-rendering="crispEdges"/>
<rect x="10" y="224" width="1753" height="2" fill="#ff0000" shape-rendering="crispEdges"/>
<rect x="10" y="263" width="1753" height="2" fill="#ff0000" shape-rendering="crispEdges"/>
<rect x="81" y="333" width="1682" height="2" fill="#ff0000" shape-rendering="crispEdges"/>
<rect x="555" y="423" width="1208" height="2" fill="#ff0000" shape-rendering="crispEdges"/>
<rect x="10" y="497" width="1753" height="2" fill="#4caf50" shape-rendering="crispEdges"/>
<rect x="10" y="609" width="1753" height="2" fill="#4caf50" shape-rendering="crispEdges"/>
<line x1="9" y1="49.9" x2="1288" y2="298.2" stroke="#0a0af5" stroke-width="3.2" stroke-linecap="round" clip-path="url(#cp)"/>
</g><g id="fib-labels">
<text x="1754.5" y="42" font-size="12" fill="#5badde" text-anchor="end" textLength="64.5" lengthAdjust="spacingAndGlyphs">1 (4,637.53)</text>
<text x="1754.5" y="174" font-size="12" fill="#f00014" text-anchor="end" textLength="88" lengthAdjust="spacingAndGlyphs">0.764 (4,487.07)</text>
<text x="1754.5" y="255.7" font-size="12" fill="#3fcf9f" text-anchor="end" textLength="88" lengthAdjust="spacingAndGlyphs">0.618 (4,393.99)</text>
<text x="1754.5" y="321.5" font-size="12" fill="#4a2350" text-anchor="end" textLength="75.5" lengthAdjust="spacingAndGlyphs">0.5 (4,318.76)</text>
<text x="1754.5" y="470.7" font-size="12" fill="#d8323e" text-anchor="end" textLength="88" lengthAdjust="spacingAndGlyphs">0.236 (4,150.46)</text>
<text x="1754.5" y="602.8" font-size="12" fill="#808080" text-anchor="end" textLength="64.5" lengthAdjust="spacingAndGlyphs">0 (4,000.00)</text>
</g><g id="event-icon">
<g fill="none" stroke="#9c27b0" stroke-width="1.3"><path d="M1279.0 627.4 A9.9 9.9 0 1 1 1281.2 637.3"/><path d="M1291.6 625.6 L1285.2 631.2 L1292.2 630.6 L1285.6 636.2" stroke-linejoin="miter" stroke-width="1.6"/></g>
<path d="M1278 629.2 Q1278.6 633.4 1282.9 634 Q1278.6 634.6 1278 638.8 Q1277.4 634.6 1273.1 634 Q1277.4 633.4 1278 629.2Z" fill="#6a4cff" stroke="#6a4cff" stroke-width="0.8" stroke-linejoin="round"/>
</g><g id="axes">
<rect x="1763" y="28" width="1" height="795" fill="#505050" shape-rendering="crispEdges"/>
<rect x="10" y="795" width="1814" height="1" fill="#505050" shape-rendering="crispEdges"/>
<rect x="10" y="643" width="1814" height="1" fill="#e0e3eb" shape-rendering="crispEdges"/>
<text x="1772.3" y="86.1" font-size="11" fill="#3a3a3a" textLength="42.3" lengthAdjust="spacingAndGlyphs">4,600.00</text>
<text x="1772.3" y="121.1" font-size="11" fill="#3a3a3a" textLength="42.3" lengthAdjust="spacingAndGlyphs">4,560.00</text>
<text x="1772.3" y="156.1" font-size="11" fill="#3a3a3a" textLength="42.3" lengthAdjust="spacingAndGlyphs">4,520.00</text>
<text x="1772.3" y="191.1" font-size="11" fill="#3a3a3a" textLength="42.3" lengthAdjust="spacingAndGlyphs">4,480.00</text>
<text x="1772.3" y="227.1" font-size="11" fill="#3a3a3a" textLength="42.3" lengthAdjust="spacingAndGlyphs">4,440.00</text>
<text x="1772.3" y="262.1" font-size="11" fill="#3a3a3a" textLength="42.3" lengthAdjust="spacingAndGlyphs">4,400.00</text>
<text x="1772.3" y="297.1" font-size="11" fill="#3a3a3a" textLength="42.3" lengthAdjust="spacingAndGlyphs">4,360.00</text>
<text x="1772.3" y="332.1" font-size="11" fill="#3a3a3a" textLength="42.3" lengthAdjust="spacingAndGlyphs">4,320.00</text>
<text x="1772.3" y="368.1" font-size="11" fill="#3a3a3a" textLength="42.3" lengthAdjust="spacingAndGlyphs">4,280.00</text>
<text x="1772.3" y="403.1" font-size="11" fill="#3a3a3a" textLength="42.3" lengthAdjust="spacingAndGlyphs">4,240.00</text>
<text x="1772.3" y="438.1" font-size="11" fill="#3a3a3a" textLength="42.3" lengthAdjust="spacingAndGlyphs">4,200.00</text>
<text x="1772.3" y="473.1" font-size="11" fill="#3a3a3a" textLength="42.3" lengthAdjust="spacingAndGlyphs">4,160.00</text>
<text x="1772.3" y="509.1" font-size="11" fill="#3a3a3a" textLength="42.3" lengthAdjust="spacingAndGlyphs">4,120.00</text>
<text x="1772.3" y="544.1" font-size="11" fill="#3a3a3a" textLength="42.3" lengthAdjust="spacingAndGlyphs">4,080.00</text>
<text x="1772.3" y="579.1" font-size="11" fill="#3a3a3a" textLength="42.3" lengthAdjust="spacingAndGlyphs">4,040.00</text>
<text x="1772.3" y="679.0" font-size="11" fill="#3a3a3a" textLength="26.8" lengthAdjust="spacingAndGlyphs">60.00</text>
<text x="1772.3" y="725.0" font-size="11" fill="#3a3a3a" textLength="26.8" lengthAdjust="spacingAndGlyphs">40.00</text>
<text x="1772.3" y="771.0" font-size="11" fill="#3a3a3a" textLength="26.8" lengthAdjust="spacingAndGlyphs">20.00</text>
<rect x="1767" y="31" width="54" height="26" rx="4" fill="#fff" stroke="#f0f0f0" stroke-width="1.2"/>
<text x="1776" y="48.8" font-size="12" fill="#111" textLength="21.5" lengthAdjust="spacingAndGlyphs">USD</text>
<path d="M1764 217 h53 a2 2 0 0 1 2 2 v13 a2 2 0 0 1 -2 2 h-53z" fill="#ff0000"/>
<text x="1772.3" y="229.1" font-size="11" fill="#fff" font-weight="bold" textLength="42.5" lengthAdjust="spacingAndGlyphs">4,437.99</text>
<path d="M1764 256 h53 a2 2 0 0 1 2 2 v13 a2 2 0 0 1 -2 2 h-53z" fill="#ff0000"/>
<text x="1772.3" y="268.1" font-size="11" fill="#fff" font-weight="bold" textLength="42.5" lengthAdjust="spacingAndGlyphs">4,393.75</text>
<path d="M1764 326 h53 a2 2 0 0 1 2 2 v13 a2 2 0 0 1 -2 2 h-53z" fill="#ff0000"/>
<text x="1772.3" y="338.1" font-size="11" fill="#fff" font-weight="bold" textLength="42.5" lengthAdjust="spacingAndGlyphs">4,314.58</text>
<path d="M1764 416 h53 a2 2 0 0 1 2 2 v13 a2 2 0 0 1 -2 2 h-53z" fill="#ff0000"/>
<text x="1772.3" y="428.1" font-size="11" fill="#fff" font-weight="bold" textLength="42.5" lengthAdjust="spacingAndGlyphs">4,212.12</text>
<path d="M1764 490 h53 a2 2 0 0 1 2 2 v13 a2 2 0 0 1 -2 2 h-53z" fill="#4caf50"/>
<text x="1772.3" y="502.1" font-size="11" fill="#fff" font-weight="bold" textLength="42.5" lengthAdjust="spacingAndGlyphs">4,128.30</text>
<path d="M1764 531 h53 a2 2 0 0 1 2 2 v26 a2 2 0 0 1 -2 2 h-53z" fill="#ff0000"/>
<text x="1772.3" y="542.8" font-size="11" fill="#fff" font-weight="bold" textLength="42.5" lengthAdjust="spacingAndGlyphs">4,081.77</text>
<text x="1772.3" y="555.9" font-size="11" fill="#ffd9d9" textLength="26.8" lengthAdjust="spacingAndGlyphs">42:46</text>
<path d="M1764 602 h53 a2 2 0 0 1 2 2 v13 a2 2 0 0 1 -2 2 h-53z" fill="#4caf50"/>
<text x="1772.3" y="614.1" font-size="11" fill="#fff" font-weight="bold" textLength="42.5" lengthAdjust="spacingAndGlyphs">4,001.40</text>
<text x="73.5" y="812" font-size="11" fill="#3a3a3a" text-anchor="middle" textLength="11.5" lengthAdjust="spacingAndGlyphs">19</text>
<text x="272.7" y="812" font-size="11" fill="#3a3a3a" text-anchor="middle" textLength="11.5" lengthAdjust="spacingAndGlyphs">20</text>
<text x="472.7" y="812" font-size="11" fill="#3a3a3a" text-anchor="middle" textLength="11.5" lengthAdjust="spacingAndGlyphs">21</text>
<text x="672.7" y="812" font-size="11" fill="#3a3a3a" text-anchor="middle" textLength="11.5" lengthAdjust="spacingAndGlyphs">22</text>
<text x="871.7" y="812" font-size="11" fill="#3a3a3a" text-anchor="middle" textLength="11.5" lengthAdjust="spacingAndGlyphs">23</text>
<text x="1071.7" y="812" font-size="11" fill="#3a3a3a" text-anchor="middle" textLength="11.5" lengthAdjust="spacingAndGlyphs">24</text>
<text x="1271.7" y="812" font-size="11" fill="#3a3a3a" text-anchor="middle" textLength="11.5" lengthAdjust="spacingAndGlyphs">25</text>
<text x="1471.7" y="812" font-size="11" fill="#3a3a3a" text-anchor="middle" textLength="11.5" lengthAdjust="spacingAndGlyphs">26</text>
<text x="1670.7" y="812" font-size="11" fill="#3a3a3a" text-anchor="middle" textLength="11.5" lengthAdjust="spacingAndGlyphs">27</text>
</g><g id="legends">
<text x="18.2" y="45.5" font-size="12" fill="#4f4f4f" textLength="196" lengthAdjust="spacingAndGlyphs">Ethereum / U.S. Dollar · 1h · Kraken</text>
<text x="221.8" y="45.5" font-size="12" fill="#4f4f4f">O</text>
<text x="230" y="45.5" font-size="12" fill="#6e2626" textLength="45.7" lengthAdjust="spacingAndGlyphs">4,103.01</text>
<text x="283.2" y="45.5" font-size="12" fill="#4f4f4f">H</text>
<text x="292" y="45.5" font-size="12" fill="#6e2626" textLength="45.8" lengthAdjust="spacingAndGlyphs">4,117.40</text>
<text x="345.4" y="45.5" font-size="12" fill="#4f4f4f">L</text>
<text x="352.5" y="45.5" font-size="12" fill="#6e2626" textLength="45.5" lengthAdjust="spacingAndGlyphs">4,080.48</text>
<text x="405.3" y="45.5" font-size="12" fill="#4f4f4f">C</text>
<text x="413" y="45.5" font-size="12" fill="#6e2626" textLength="45.6" lengthAdjust="spacingAndGlyphs">4,081.77</text>
<text x="466.8" y="45.5" font-size="12" fill="#6e2626" textLength="84" lengthAdjust="spacingAndGlyphs">−21.23 (−0.52%)</text>
<text x="18.2" y="62.5" font-size="12" fill="#4f4f4f" textLength="158.5" lengthAdjust="spacingAndGlyphs">EMA (100, close, 0, SMA, 100)</text>
<text x="184.5" y="62.5" font-size="12" fill="#1fb8d3" textLength="46.5" lengthAdjust="spacingAndGlyphs">4,248.04</text>
<text x="18.2" y="663" font-size="12" fill="#4f4f4f" textLength="140" lengthAdjust="spacingAndGlyphs">RSI (14, close, SMA, 14, 2)</text>
<text x="166" y="663" font-size="12" fill="#9c27b0" textLength="29.4" lengthAdjust="spacingAndGlyphs">30.17</text>
<text x="202.7" y="663" font-size="12" fill="#fbe14a" textLength="29.3" lengthAdjust="spacingAndGlyphs">44.28</text>
<text x="240.3" y="663" font-size="12" fill="#3c3c3c" textLength="7.4" lengthAdjust="spacingAndGlyphs">∅</text>
<text x="255" y="663" font-size="12" fill="#3c3c3c" textLength="7.7" lengthAdjust="spacingAndGlyphs">∅</text>
</g><g id="header">
<text x="10" y="19" font-size="13" fill="#000" textLength="368.5" lengthAdjust="spacingAndGlyphs">aayushjindal created with TradingView.com, Sep 25, 2025 02:17 UTC</text>
</g><g id="footer-logo">
<g fill="#131313"><path d="M12 845 h12 v15 h-6 v-9 h-6z"/><circle cx="29" cy="848" r="3"/><path d="M34.5 845 h7.2 l-6.4 15 h-6.8z"/></g>
<text x="49" y="860" font-size="21" fill="#131313" font-weight="bold" textLength="121" lengthAdjust="spacingAndGlyphs">TradingView</text>
</g></svg>
</body></html>
